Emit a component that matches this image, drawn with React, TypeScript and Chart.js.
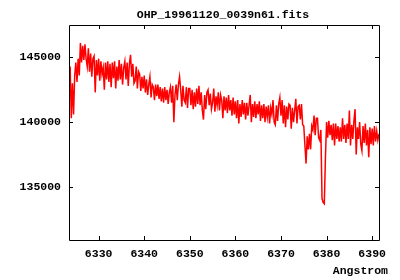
import React, { useEffect, useRef } from "react";
import { Chart, registerables } from "chart.js";

Chart.register(...registerables);

const TITLE = "OHP_19961120_0039n61.fits";
const X_LABEL = "Angstrom";
const WAVE_START = 6323.5;
const WAVE_STEP = 0.25;
const X_MIN = 6323.5;
const X_MAX = 6391.5;
const Y_MIN = 130900;
const Y_MAX = 147500;
const X_TICKS = [6330, 6340, 6350, 6360, 6370, 6380, 6390];
const Y_TICKS = [135000, 140000, 145000];

const FLUX = [
  142600, 144300,
  140300, 143000, 140600, 143600,
  144600, 143100, 144900, 143600,
  146100, 144600, 145900, 144800,
  146000, 144900, 144300, 145700,
  143900, 145300, 143500, 144900,
  145100, 142300, 144800, 143600,
  144900, 143200, 144700, 143700,
  144200, 142500, 144600, 143300,
  144700, 143100, 144500, 142700,
  144600, 143400, 144700, 142600,
  144300, 143200, 144800, 143300,
  144500, 142900, 144200, 144700,
  143300, 144600, 142800, 144500,
  145200, 143500, 144500, 143000,
  143200, 144300, 142600, 143900,
  143700, 142400, 143500, 142600,
  143600, 142300, 143300, 142100,
  142900, 143500, 141900, 142900,
  142700, 141700, 142900, 142000,
  142900, 141800, 142700, 141600,
  142600, 141500, 142700, 141700,
  142500, 141400, 142300, 142700,
  141500, 142800, 140000, 142100,
  142900, 141700, 142900, 143500,
  142500, 141200, 142800, 141700,
  141500, 142700, 141100, 142600,
  142600, 141300, 142500, 141000,
  142300, 141200, 142600, 141400,
  142800, 141300, 142300, 140900,
  140200, 142100, 141000, 142300,
  142500, 141300, 142200, 141000,
  141500, 142600, 140800, 142000,
  141300, 142300, 140900, 142100,
  141700, 140300, 142000, 140900,
  141900, 140700, 142100, 140900,
  141700, 140500, 141900, 140600,
  141600, 140300, 141700, 139900,
  141400, 140400, 141700, 140600,
  141500, 140200, 141500, 140500,
  141300, 142100, 140000, 141400,
  140400, 141600, 140300, 141400,
  140600, 141600, 140100, 141300,
  140300, 141400, 140000, 141200,
  140400, 141300, 139900, 141100,
  140600, 141700, 140000, 139800,
  141300, 140100, 141400, 141900,
  140500, 141700, 139900, 141300,
  139600, 141200, 140200, 141400,
  141300, 139500, 141100, 140000,
  140900, 141800, 139900, 141200,
  141300, 140200, 141400, 139800,
  139700, 138200, 136800, 138900,
  137900, 139100, 137900, 139700,
  139400, 140500, 139000, 140300,
  140300, 138800, 138600, 139400,
  134100, 133800, 133700, 137300,
  140000, 138800, 140100, 139000,
  139800, 138600, 139900, 138200,
  139900, 138700, 139700, 138500,
  139600, 138500, 140300, 138700,
  139800, 138400, 139900, 138700,
  140900, 138200, 139800, 138700,
  140100, 141000, 137500, 139600,
  138700, 140000, 138300, 137800,
  139700, 138400, 139900, 138200,
  139400, 137300, 139600, 138300,
  139500, 138200, 139700, 138500,
  139300, 138600, 139100,
];

const FONT_FAMILY = '"Liberation Mono", "DejaVu Sans Mono", monospace';
const FONT_SIZE = 11.5;

const framePlugin = {
  id: "gnuplotFrame",
  afterDraw(chart: any) {
    const { ctx, chartArea } = chart;
    const xs = chart.scales.x;
    const ys = chart.scales.y;
    const { left, right, top, bottom } = chartArea;
    ctx.save();
    ctx.strokeStyle = "#000";
    ctx.lineWidth = 1;
    ctx.beginPath();
    ctx.rect(Math.round(left) + 0.5, Math.round(top) + 0.5, Math.round(right - left), Math.round(bottom - top));
    ctx.stroke();
    const tl = 4;
    ctx.beginPath();
    X_TICKS.forEach((v) => {
      const px = Math.round(xs.getPixelForValue(v)) + 0.5;
      ctx.moveTo(px, bottom);
      ctx.lineTo(px, bottom - tl);
      ctx.moveTo(px, top);
      ctx.lineTo(px, top + tl);
    });
    Y_TICKS.forEach((v) => {
      const py = Math.round(ys.getPixelForValue(v)) + 0.5;
      ctx.moveTo(left, py);
      ctx.lineTo(left + tl, py);
      ctx.moveTo(right, py);
      ctx.lineTo(right - tl, py);
    });
    ctx.stroke();
    ctx.fillStyle = "#000";
    ctx.font = `bold ${FONT_SIZE}px ${FONT_FAMILY}`;
    ctx.textAlign = "center";
    ctx.textBaseline = "alphabetic";
    ctx.fillText(TITLE, 223, 17.5);
    ctx.textAlign = "right";
    ctx.fillText(X_LABEL, 388, 273.5);
    ctx.restore();
  },
};

export default function App() {
  const ref = useRef<HTMLCanvasElement>(null);
  useEffect(() => {
    document.body.style.margin = "0";
    const points = FLUX.map((f, i) => ({ x: WAVE_START + i * WAVE_STEP, y: f }));
    const tickFont = { family: FONT_FAMILY, size: FONT_SIZE, weight: "bold" as const };
    const chart = new Chart(ref.current!, {
      type: "line",
      data: {
        datasets: [
          {
            data: points,
            borderColor: "#ff0000",
            borderWidth: 1.5,
            pointRadius: 0,
            tension: 0,
            fill: false,
          },
        ],
      },
      options: {
        animation: false,
        responsive: false,
        devicePixelRatio: 1,
        layout: { padding: { top: 25, right: 21, left: 0, bottom: 0 } },
        plugins: { legend: { display: false }, title: { display: false }, tooltip: { enabled: false } },
        scales: {
          x: {
            type: "linear",
            min: X_MIN,
            max: X_MAX,
            grid: { display: false, drawTicks: false },
            border: { display: false },
            afterBuildTicks: (s: any) => {
              s.ticks = X_TICKS.map((v) => ({ value: v }));
            },
            ticks: {
              maxRotation: 0,
              autoSkip: false,
              padding: 7,
              color: "#000",
              font: tickFont,
              callback: (v: any) => String(v),
            },
            afterFit: (s: any) => {
              s.height = 40;
            },
          },
          y: {
            type: "linear",
            min: Y_MIN,
            max: Y_MAX,
            grid: { display: false, drawTicks: false },
            border: { display: false },
            afterBuildTicks: (s: any) => {
              s.ticks = Y_TICKS.map((v) => ({ value: v }));
            },
            ticks: {
              autoSkip: false,
              padding: 8,
              color: "#000",
              font: tickFont,
              callback: (v: any) => String(v),
            },
            afterFit: (s: any) => {
              s.width = 69;
            },
          },
        },
      },
      plugins: [framePlugin],
    });
    return () => chart.destroy();
  }, []);
  return (
    <div style={{ width: 400, height: 280 }}>
      <canvas ref={ref} width={400} height={280} style={{ display: "block" }} />
    </div>
  );
}
